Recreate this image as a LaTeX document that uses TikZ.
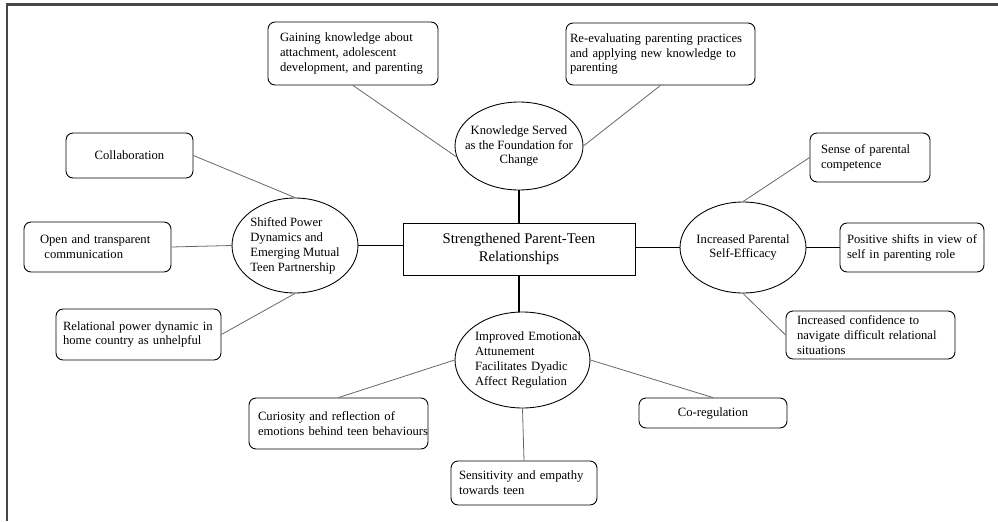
\documentclass[tikz,border=0pt]{standalone}
\usepackage{fontspec}
\setmainfont{Liberation Serif}
\usetikzlibrary{shapes.geometric}

\tikzstyle{core}=[draw,rectangle,line width=0.5pt,inner sep=0pt,minimum width=4.64cm,minimum height=1.04cm,align=center,font=\fontsize{8.4}{10.2}\selectfont]
\tikzstyle{theme}=[draw,ellipse,line width=0.5pt,inner sep=-1cm,align=center,font=\fontsize{7.2}{8.5}\selectfont]
\tikzstyle{leaf}=[draw,rectangle,rounded corners=4pt,line width=0.5pt,inner ysep=0pt,align=left,font=\fontsize{7.2}{8.5}\selectfont,
    execute at begin node={\rightskip=-1cm plus 1fil\hyphenpenalty=10000}]
\tikzstyle{spoke}=[black,line width=0.9pt]
\tikzstyle{edge}=[gray!80!black,line width=0.45pt]

\begin{document}
\begin{tikzpicture}[x=0.02cm,y=-0.02cm]
    \useasboundingbox (0,0) rectangle (998,521);
    \draw[black!72,line width=1.2pt] (7,521) -- (7,4.5) -- (998,4.5);

    \node (core)[core] at (519,249) {Strengthened Parent-Teen\\Relationships};
    \node (know)[theme,minimum width=2.56cm,minimum height=1.76cm] at (519,146) {Knowledge Served\\as the Foundation for\\Change};
    \node (power)[theme,align=left,minimum width=2.52cm,minimum height=1.9cm] at (295,245.5) {Shifted Power\\Dynamics and\\Emerging Mutual\\Teen Partnership};
    \node (efficacy)[theme,minimum width=2.52cm,minimum height=1.82cm] at (743,247.5) {Increased Parental\\Self-Efficacy};
    \node (attune)[theme,align=left,text width=2.9cm,minimum width=2.7cm,minimum height=1.92cm,
        execute at begin node={\leftskip=0.5cm}] at (522.5,360) {Improved Emotional\\Attunement\\Facilitates Dyadic\\Affect Regulation};

    \node (gain)[leaf,text width=2.92cm,inner xsep=0.24cm,minimum height=1.26cm] at (353,53.5) {Gaining knowledge about\\attachment, adolescent\\development, and parenting};
    \node (reeval)[leaf,text width=3.62cm,inner xsep=0.08cm,minimum height=1.24cm] at (660.5,54) {Re-evaluating parenting practices\\and applying new knowledge to\\parenting};
    \node (collab)[leaf,align=center,minimum width=2.54cm,minimum height=0.9cm] at (129.5,155.5) {Collaboration};
    \node (open)[leaf,text width=2.3cm,inner xsep=0.32cm,minimum height=1cm] at (97.5,247) {Open and transparent\\\hspace*{2.5pt}communication};
    \node (relpower)[leaf,text width=3.02cm,inner xsep=0.14cm,minimum height=1.02cm] at (138.5,334.5) {Relational power dynamic in\\home country as unhelpful};
    \node (sense)[leaf,text width=1.96cm,inner xsep=0.22cm,minimum height=0.98cm] at (870,157.5) {Sense of parental\\competence};
    \node (shifts)[leaf,text width=2.6cm,inner xsep=0.14cm,minimum height=0.98cm] at (912,247.5) {Positive shifts in view of\\self in parenting role};
    \node (confid)[leaf,text width=2.94cm,inner xsep=0.22cm,minimum height=0.96cm] at (870.5,335) {Increased confidence to\\navigate difficult relational\\situations};
    \node (curious)[leaf,text width=3.22cm,inner xsep=0.18cm,minimum height=1.02cm] at (338.5,423.5) {Curiosity and reflection of\\emotions behind teen behaviours};
    \node (sensitiv)[leaf,text width=2.6cm,inner xsep=0.16cm,minimum height=0.88cm] at (524,483) {Sensitivity and empathy\\towards teen};
    \node (coreg)[leaf,align=center,minimum width=2.96cm,minimum height=0.6cm] at (713,413) {Co-regulation};

    \draw[spoke] (know) -- (core);
    \draw[spoke] (power.east) -- (power.east -| core.west);
    \draw[spoke] (efficacy.west) -- (efficacy.west -| core.east);
    \draw[spoke] (core.south) -- (core.south |- attune.north);

    \draw[edge] (gain.south) -- (know.190);
    \draw[edge] (reeval.south) -- (know.east);
    \draw[edge] (collab.east) -- (power.north);
    \draw[edge] (open.east) -- (power.west);
    \draw[edge] (relpower.east) -- (power.south);
    \draw[edge] (sense.west) -- (efficacy.north);
    \draw[spoke,line width=0.6pt] (efficacy.east) -- (shifts.west);
    \draw[edge] (efficacy.south) -- (confid.west);
    \draw[edge] (curious.north) -- (attune.west);
    \draw[edge] (attune.south) -- (sensitiv.north);
    \draw[edge] (attune.east) -- (coreg.north);
\end{tikzpicture}
\end{document}
